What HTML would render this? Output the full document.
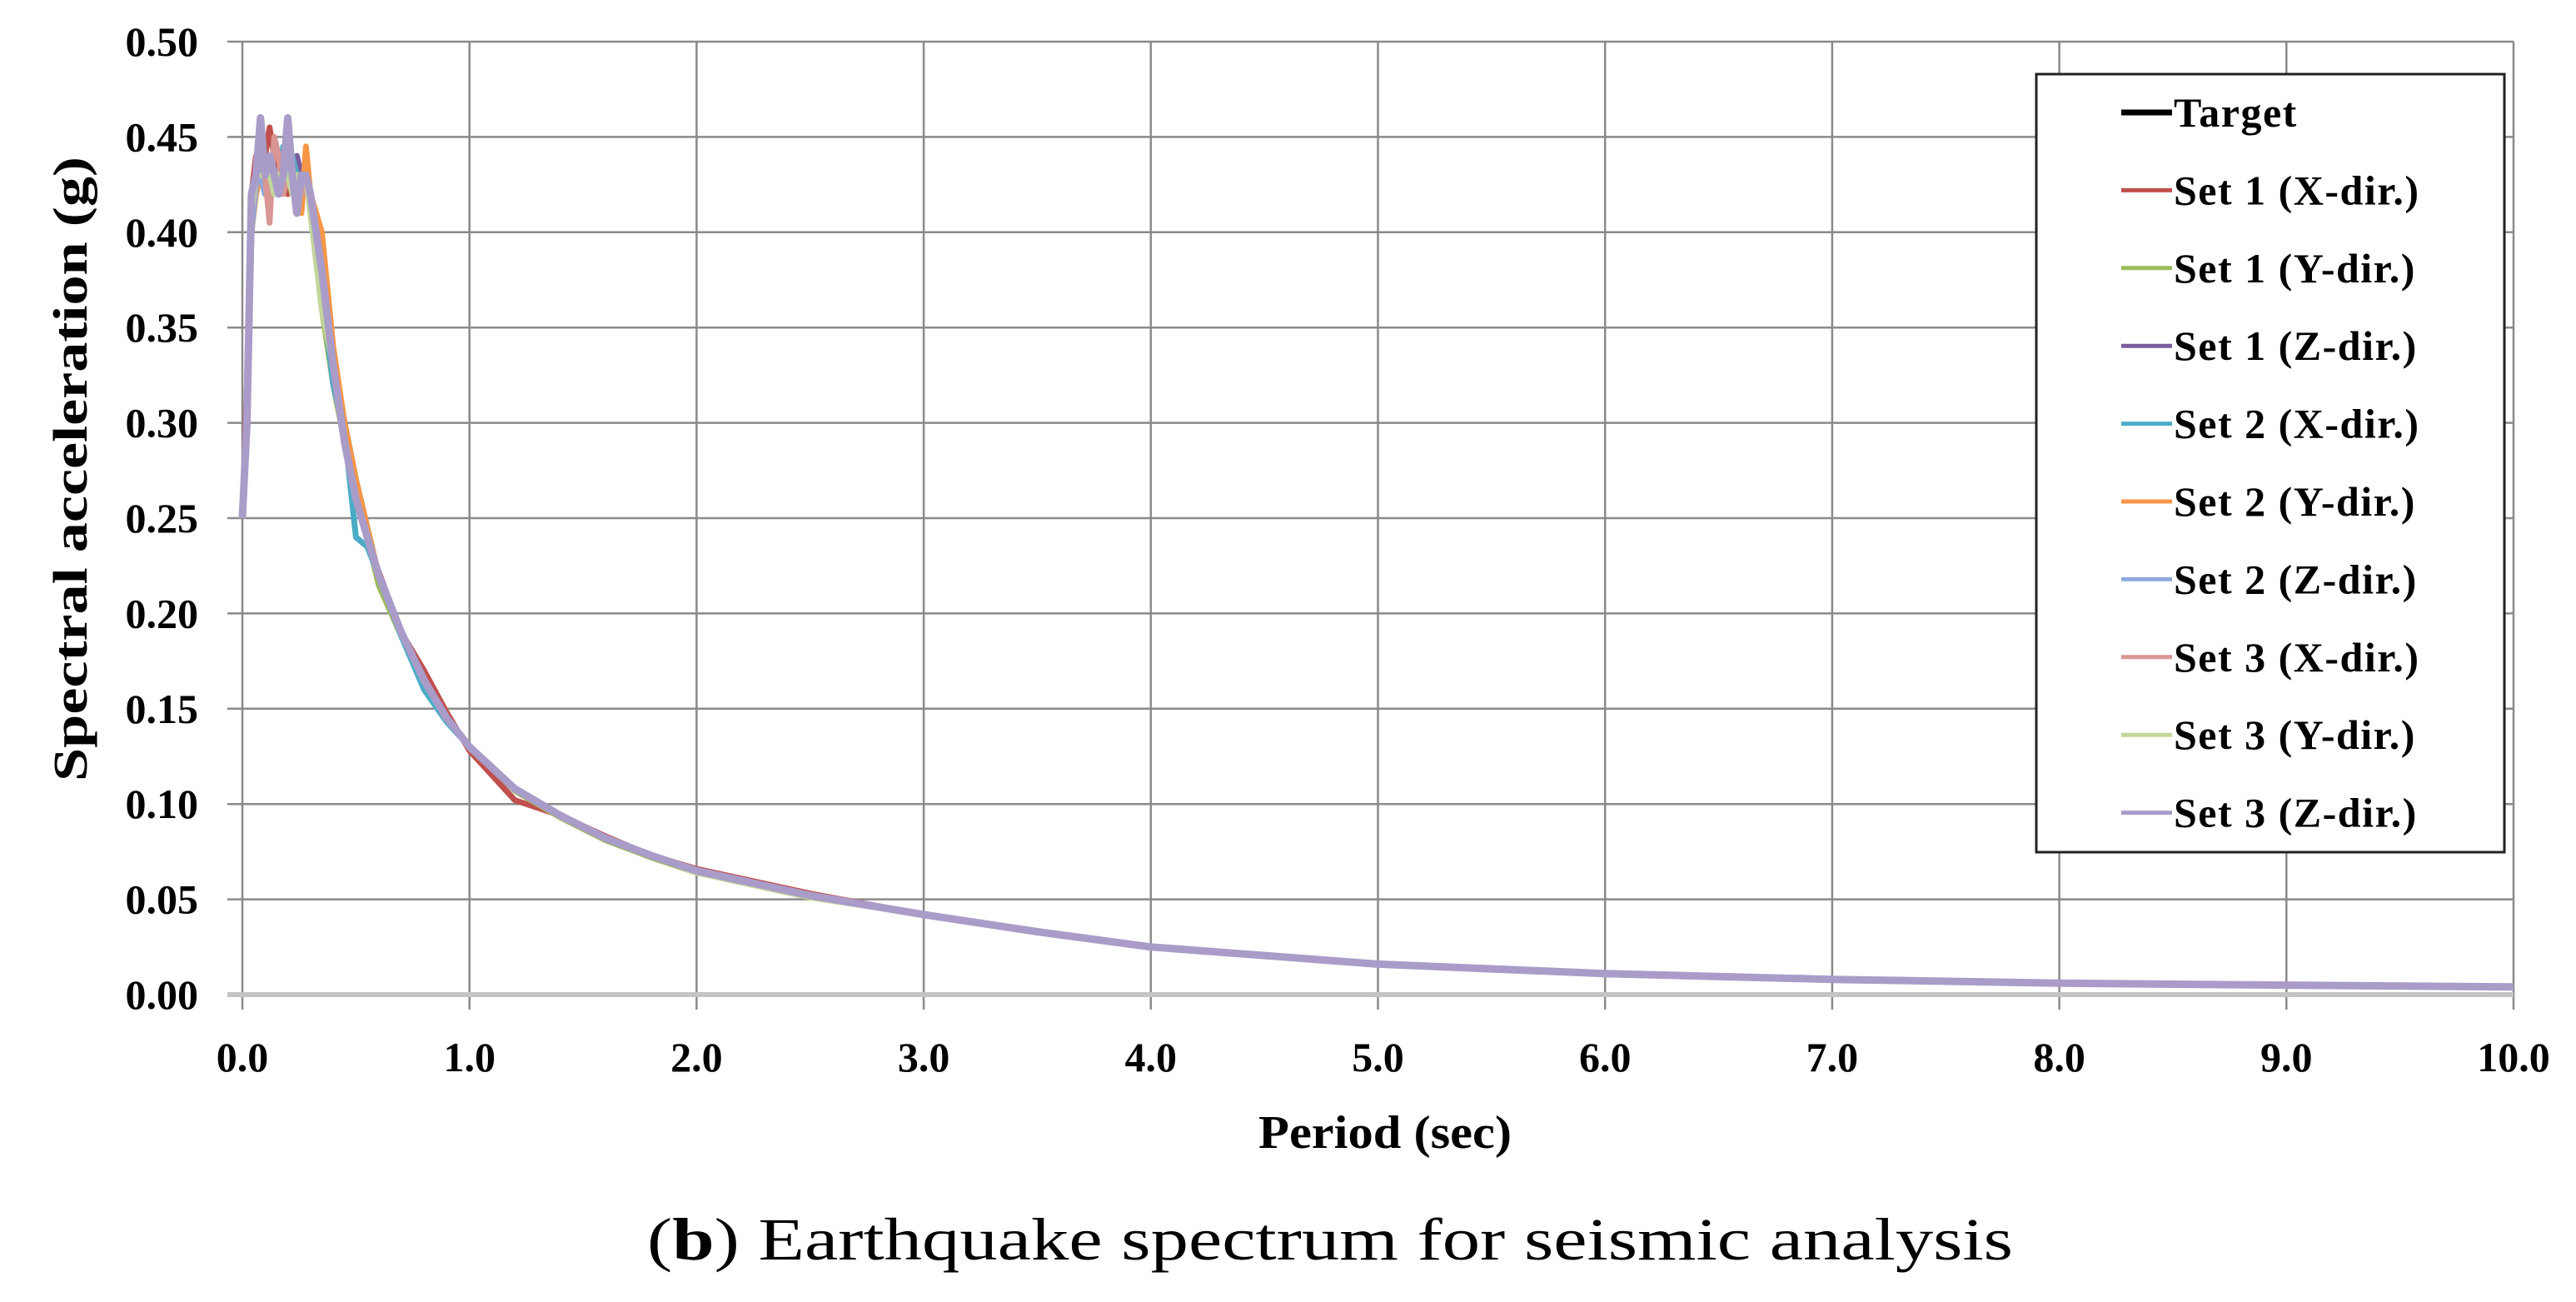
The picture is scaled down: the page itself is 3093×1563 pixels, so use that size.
<!DOCTYPE html>
<html><head><meta charset="utf-8">
<style>
html,body{margin:0;padding:0;background:#fff;}
svg{display:block;}
text{font-family:"Liberation Serif",serif;fill:#000;}
</style></head>
<body>
<svg id="chart" width="3093" height="1563" viewBox="0 0 3093 1563" xmlns="http://www.w3.org/2000/svg">
<g id="grid"></g>
<g id="axes"></g>
<g id="series"></g>
<g id="legend"></g>
<text x="0" y="0" transform="translate(104,563) rotate(-90)" text-anchor="middle" font-size="58" font-weight="bold" textLength="750" lengthAdjust="spacingAndGlyphs">Spectral acceleration (g)</text>
<text x="1663" y="1378" text-anchor="middle" font-size="56" font-weight="bold" textLength="304" lengthAdjust="spacingAndGlyphs">Period (sec)</text>
<text x="1597" y="1512" text-anchor="middle" font-size="72" textLength="1640" lengthAdjust="spacingAndGlyphs">(<tspan font-weight="bold">b</tspan>) Earthquake spectrum for seismic analysis</text>
</svg>
<script>
const xTicks = [0,1,2,3,4,5,6,7,8,9,10];
const xTickLabels = ["0.0","1.0","2.0","3.0","4.0","5.0","6.0","7.0","8.0","9.0","10.0"];
const yTicks = [0,0.05,0.1,0.15,0.2,0.25,0.3,0.35,0.4,0.45,0.5];
const yTickLabels = ["0.00","0.05","0.10","0.15","0.20","0.25","0.30","0.35","0.40","0.45","0.50"];
const periods = [0,0.02,0.04,0.06,0.08,0.1,0.12,0.14,0.16,0.18,0.2,0.22,0.24,0.26,0.28,0.3,0.35,0.4,0.45,0.5,0.55,0.6,0.7,0.8,0.9,1.0,1.2,1.4,1.6,1.8,2.0,2.5,3.0,3.5,4.0,5.0,6.0,7.0,8.0,9.0,10.0];
const seriesNames = ["Target","Set 1 (X-dir.)","Set 1 (Y-dir.)","Set 1 (Z-dir.)","Set 2 (X-dir.)","Set 2 (Y-dir.)","Set 2 (Z-dir.)","Set 3 (X-dir.)","Set 3 (Y-dir.)","Set 3 (Z-dir.)"];
const seriesColors = ["#000000","#C0504D","#9BBB59","#7A5C9E","#4BACC6","#F79646","#8EA9DB","#D99694","#C3D69B","#A99CC9"];
const target = [0.25,0.30,0.40,0.43,0.43,0.43,0.43,0.43,0.43,0.43,0.43,0.43,0.43,0.43,0.43,0.42,0.37,0.33,0.30,0.27,0.245,0.22,0.19,0.165,0.145,0.13,0.108,0.094,0.082,0.073,0.065,0.052,0.042,0.033,0.025,0.016,0.011,0.008,0.006,0.005,0.004];
const set1X = [0.25,0.32,0.42,0.44,0.43,0.44,0.455,0.44,0.42,0.43,0.42,0.43,0.44,0.42,0.43,0.41,0.37,0.33,0.29,0.26,0.24,0.222,0.19,0.17,0.148,0.128,0.102,0.094,0.083,0.073,0.066,0.053,0.042,0.033,0.025,0.016,0.011,0.008,0.006,0.005,0.004];
const set1Y = [0.25,0.30,0.40,0.43,0.43,0.42,0.43,0.43,0.42,0.43,0.43,0.43,0.425,0.43,0.43,0.41,0.36,0.32,0.29,0.26,0.24,0.215,0.188,0.163,0.145,0.13,0.107,0.093,0.081,0.072,0.064,0.051,0.042,0.033,0.025,0.016,0.011,0.008,0.006,0.005,0.004];
const set1Z = [0.25,0.31,0.41,0.43,0.44,0.43,0.44,0.43,0.42,0.44,0.43,0.43,0.44,0.43,0.43,0.42,0.37,0.33,0.29,0.265,0.24,0.22,0.19,0.165,0.145,0.13,0.108,0.094,0.082,0.073,0.065,0.052,0.042,0.033,0.025,0.016,0.011,0.008,0.006,0.005,0.004];
const set2X = [0.25,0.30,0.41,0.43,0.43,0.44,0.43,0.42,0.43,0.445,0.43,0.44,0.43,0.43,0.42,0.42,0.37,0.32,0.295,0.24,0.235,0.22,0.188,0.16,0.143,0.13,0.108,0.094,0.082,0.073,0.065,0.052,0.042,0.033,0.025,0.016,0.011,0.008,0.006,0.005,0.004];
const set2Y = [0.25,0.31,0.40,0.42,0.43,0.43,0.44,0.42,0.43,0.43,0.44,0.43,0.42,0.41,0.445,0.42,0.40,0.34,0.30,0.27,0.245,0.22,0.19,0.165,0.145,0.13,0.108,0.094,0.082,0.073,0.065,0.052,0.042,0.033,0.025,0.016,0.011,0.008,0.006,0.005,0.004];
const set2Z = [0.25,0.30,0.40,0.425,0.43,0.42,0.43,0.43,0.43,0.44,0.43,0.43,0.43,0.43,0.43,0.42,0.37,0.33,0.29,0.26,0.24,0.22,0.19,0.165,0.145,0.13,0.108,0.094,0.082,0.073,0.065,0.052,0.042,0.033,0.025,0.016,0.011,0.008,0.006,0.005,0.004];
const set3X = [0.25,0.31,0.41,0.43,0.44,0.43,0.405,0.45,0.44,0.42,0.43,0.43,0.43,0.43,0.42,0.42,0.37,0.33,0.29,0.26,0.24,0.22,0.19,0.165,0.145,0.13,0.108,0.094,0.082,0.073,0.065,0.052,0.042,0.033,0.025,0.016,0.011,0.008,0.006,0.005,0.004];
const set3Y = [0.25,0.30,0.41,0.43,0.43,0.43,0.43,0.42,0.43,0.43,0.43,0.42,0.43,0.43,0.43,0.41,0.36,0.33,0.29,0.26,0.24,0.22,0.19,0.165,0.145,0.13,0.108,0.094,0.082,0.073,0.064,0.051,0.042,0.033,0.025,0.016,0.011,0.008,0.006,0.005,0.004];
const set3Z = [0.25,0.30,0.42,0.43,0.46,0.43,0.44,0.43,0.42,0.43,0.46,0.43,0.41,0.43,0.43,0.42,0.38,0.33,0.29,0.26,0.24,0.22,0.19,0.165,0.145,0.13,0.108,0.094,0.082,0.073,0.065,0.052,0.042,0.033,0.025,0.016,0.011,0.008,0.006,0.005,0.004];
const allSeries = [target,set1X,set1Y,set1Z,set2X,set2Y,set2Z,set3X,set3Y,set3Z];

const NS = "http://www.w3.org/2000/svg";
const X0 = 291, X1 = 3018, Y0 = 1194, Y1 = 50;
function xs(v){ return X0 + (v - 0) / 10 * (X1 - X0); }
function ys(v){ return Y0 - v / 0.5 * (Y0 - Y1); }
function mk(tag, attrs, parent){
  const e = document.createElementNS(NS, tag);
  for (const k in attrs) e.setAttribute(k, attrs[k]);
  parent.appendChild(e);
  return e;
}
const grid = document.getElementById('grid');
const axes = document.getElementById('axes');
yTicks.forEach((v,i)=>{
  if (v > 0) {
    const l = mk('line',{x1:273,x2:X1,y1:ys(v),y2:ys(v),stroke:'#8a8a8a','stroke-width':2.5},grid);
    
    
  }
  const t = mk('text',{x:238,y:ys(v)+17,'text-anchor':'end','font-size':50,'font-weight':'bold'},axes);
  t.textContent = yTickLabels[i];
  
  
});
xTicks.forEach((v,i)=>{
  const l = mk('line',{x1:xs(v),x2:xs(v),y1:Y1,y2:1212,stroke:'#8a8a8a','stroke-width':2.5},grid);
  
  
  const t = mk('text',{x:xs(v),y:1286,'text-anchor':'middle','font-size':50,'font-weight':'bold'},axes);
  t.textContent = xTickLabels[i];
  
  
});
const xa = mk('line',{x1:273,x2:X1,y1:Y0,y2:Y0,stroke:'#c4c4c4','stroke-width':6},axes);



const sg = document.getElementById('series');
allSeries.forEach((vals,si)=>{
  const pts = vals.map((v,j)=> xs(periods[j]).toFixed(1)+','+ys(v).toFixed(1)).join(' ');
  const p = mk('polyline',{points:pts,fill:'none',stroke:seriesColors[si],'stroke-width':si===9?9:7,'stroke-linejoin':'round'},sg);
  
  
});

const lg = document.getElementById('legend');
const box = mk('rect',{x:2445,y:89,width:562,height:934,fill:'#fff',stroke:'#222','stroke-width':3},lg);


seriesNames.forEach((n,i)=>{
  const y = 135 + i*93.4;
  const l = mk('line',{x1:2547,x2:2608,y1:y,y2:y,stroke:seriesColors[i],'stroke-width':i===0?7:5},lg);
  
  
  const t = mk('text',{x:2610,y:y+17,'font-size':50,'font-weight':'bold','letter-spacing':1.5},lg);
  t.textContent = n;
  
  
});
</script>
</body></html>
